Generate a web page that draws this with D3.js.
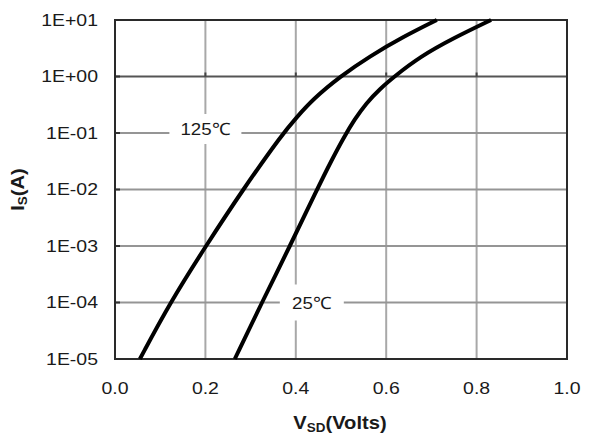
<!DOCTYPE html>
<html>
<head>
<meta charset="utf-8">
<script src="https://cdn.jsdelivr.net/npm/d3@7"></script>
<style>
  body { margin: 0; background: #fff; }
  text { font-family: "Liberation Sans", Arial, sans-serif; fill: #1a1a1a; }
</style>
</head>
<body>
<div id="chart"></div>
<script>
// axis ticks
const vTicks = [0.0, 0.2, 0.4, 0.6, 0.8, 1.0];
const iTicks = [1e-5, 1e-4, 1e-3, 1e-2, 1e-1, 1e0, 1e1];
const iTickLabels = ["1E-05", "1E-04", "1E-03", "1E-02", "1E-01", "1E+00", "1E+01"];

// 125C curve
const v125 = [0.055, 0.122, 0.201, 0.283, 0.372, 0.400, 0.438, 0.498, 0.564, 0.637, 0.712];
const i125 = [1e-5, 1e-4, 1e-3, 1e-2, 0.1, 0.182, 0.398, 1.0, 2.29, 5.01, 10];

// 25C curve
const v25 = [0.265, 0.325, 0.387, 0.447, 0.478, 0.506, 0.530, 0.556, 0.586, 0.618, 0.675, 0.748, 0.832];
const i25 = [1e-5, 1e-4, 1e-3, 1e-2, 0.0316, 0.0832, 0.174, 0.339, 0.603, 1.0, 2.24, 4.74, 10];

const margin = {top: 20, right: 22, bottom: 77, left: 115},
    width = 589 - margin.left - margin.right,
    height = 436 - margin.top - margin.bottom;

const svg = d3.select("#chart")
  .append("svg")
    .attr("width", 589)
    .attr("height", 436)
  .append("g")
    .attr("transform", `translate(${margin.left},${margin.top})`);

const x = d3.scaleLinear().domain([0, 1]).range([0, width]);
const y = d3.scaleLog().domain([1e-5, 1e1]).range([height, 0]);

// the original lettering is a bit wider than Liberation Sans
const stretch = 1.18;

// grid
svg.selectAll(".vgrid")
  .data(vTicks.slice(1, -1))
  .enter().append("line")
    .attr("x1", d => x(d)).attr("x2", d => x(d))
    .attr("y1", 0).attr("y2", height)
    .attr("stroke", "#a8a8a8")
    .attr("stroke-width", 2);

svg.selectAll(".hgrid")
  .data(iTicks.slice(1, -1))
  .enter().append("line")
    .attr("x1", 0).attr("x2", width)
    .attr("y1", d => y(d)).attr("y2", d => y(d))
    .attr("stroke", d => d === 1 ? "#555" : "#959595")
    .attr("stroke-width", 2);

// small ticks on the 1E+00 line and left axis
svg.selectAll(".t1")
  .data(vTicks.slice(1, -1))
  .enter().append("line")
    .attr("x1", d => x(d)).attr("x2", d => x(d))
    .attr("y1", y(1) - 4).attr("y2", y(1))
    .attr("stroke", "#444").attr("stroke-width", 2);

svg.selectAll(".t2")
  .data(iTicks)
  .enter().append("line")
    .attr("x1", 0).attr("x2", 5)
    .attr("y1", d => y(d)).attr("y2", d => y(d))
    .attr("stroke", "#333").attr("stroke-width", 2);

// curve labels with white boxes
function label(cx, cy, w, h, txt) {
  svg.append("rect")
    .attr("x", cx - w / 2).attr("y", cy - h / 2)
    .attr("width", w).attr("height", h)
    .attr("fill", "#fff");
  svg.append("text")
    .attr("transform", `translate(${cx},${cy}) scale(1.1,1)`)
    .attr("dy", "0.36em")
    .attr("text-anchor", "middle")
    .style("font-size", "17px")
    .text(txt);
}
label(x(0.2), y(0.1) - 4, 72, 30, "125\u2103");
label(x(0.4) + 16, y(1e-4), 64, 36, "25\u2103");

// frame
svg.append("rect")
  .attr("x", 0).attr("y", 0)
  .attr("width", width).attr("height", height)
  .attr("fill", "none")
  .attr("stroke", "#2a2a2a")
  .attr("stroke-width", 2);

// curves
const line = d3.line()
  .x(d => x(d[0]))
  .y(d => y(d[1]))
  .curve(d3.curveBasis);

svg.append("path")
  .datum(v125.map((v, k) => [v, i125[k]]))
  .attr("fill", "none")
  .attr("stroke", "#000")
  .attr("stroke-width", 4)
  .attr("d", line);

svg.append("path")
  .datum(v25.map((v, k) => [v, i25[k]]))
  .attr("fill", "none")
  .attr("stroke", "#000")
  .attr("stroke-width", 4)
  .attr("d", line);

// tick labels
svg.selectAll(".xl")
  .data(vTicks)
  .enter().append("text")
    .attr("transform", d => `translate(${x(d)},${height + 29}) scale(${stretch},1)`)
    .attr("dy", "0.36em")
    .attr("text-anchor", "middle")
    .style("font-size", "16.5px")
    .text(d => d.toFixed(1));

svg.selectAll(".yl")
  .data(iTicks)
  .enter().append("text")
    .attr("transform", d => `translate(-17,${y(d)}) scale(${stretch},1)`)
    .attr("dy", "0.36em")
    .attr("text-anchor", "end")
    .style("font-size", "16.5px")
    .text((d, k) => iTickLabels[k]);

// axis titles
const xt = svg.append("text")
  .attr("transform", `translate(${(x(0.4) + x(0.6)) / 2 - 1},${height + 70}) scale(1.12,1)`)
  .attr("text-anchor", "middle")
  .style("font-size", "18px")
  .style("font-weight", "bold");
xt.append("tspan").text("V");
xt.append("tspan").attr("dy", 3).style("font-size", "12px").text("SD");
xt.append("tspan").attr("dy", -3).text("(Volts)");

const yt = svg.append("text")
  .attr("transform", `translate(${-margin.left + 24},${y(1e-2)}) rotate(-90) scale(1.12,1)`)
  .attr("text-anchor", "middle")
  .style("font-size", "18px")
  .style("font-weight", "bold");
yt.append("tspan").text("I");
yt.append("tspan").attr("dy", 3).style("font-size", "12px").text("S");
yt.append("tspan").attr("dy", -3).text("(A)");
</script>
</body>
</html>
